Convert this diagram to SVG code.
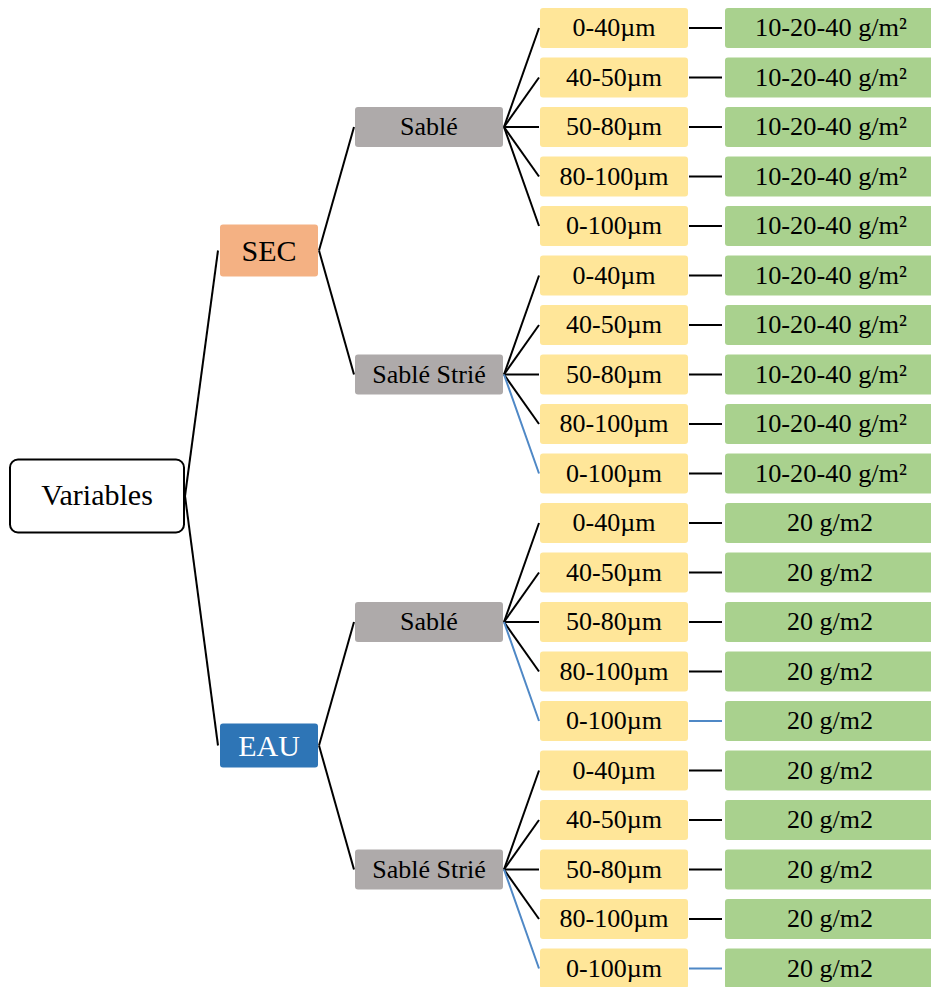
<svg xmlns="http://www.w3.org/2000/svg" width="931" height="987" viewBox="0 0 931 987">
<style>
text{font-family:'Liberation Serif','DejaVu Serif',serif;font-size:26px;fill:#000;text-anchor:middle}
.big{font-size:30px}
.yel{fill:#FFE699}
.grn{fill:#A9D18E}
.gry{fill:#AEAAAA}
.ln{stroke:#000;stroke-width:2;fill:none}
.bl{stroke:#4F88C6;stroke-width:2;fill:none}
</style>
<rect width="931" height="987" fill="#fff"/>
<g id="connectors">
<line class="ln" x1="185" y1="496" x2="218" y2="250.5"/>
<line class="ln" x1="185" y1="496" x2="218" y2="745.5"/>
<line class="ln" x1="319" y1="250.5" x2="354" y2="127"/>
<line class="ln" x1="319" y1="250.5" x2="354" y2="374.5"/>
<line class="ln" x1="319" y1="745.5" x2="354" y2="622"/>
<line class="ln" x1="319" y1="745.5" x2="354" y2="869.5"/>
<line class="ln" x1="504" y1="127" x2="539" y2="28"/>
<line class="ln" x1="504" y1="127" x2="539" y2="77.5"/>
<line class="ln" x1="504" y1="127" x2="539" y2="127"/>
<line class="ln" x1="504" y1="127" x2="539" y2="176.5"/>
<line class="ln" x1="504" y1="127" x2="539" y2="226"/>
<line class="ln" x1="504" y1="374.5" x2="539" y2="275.5"/>
<line class="ln" x1="504" y1="374.5" x2="539" y2="325"/>
<line class="ln" x1="504" y1="374.5" x2="539" y2="374.5"/>
<line class="ln" x1="504" y1="374.5" x2="539" y2="424"/>
<line class="bl" x1="504" y1="374.5" x2="539" y2="473.5"/>
<line class="ln" x1="504" y1="622" x2="539" y2="523"/>
<line class="ln" x1="504" y1="622" x2="539" y2="572.5"/>
<line class="ln" x1="504" y1="622" x2="539" y2="622"/>
<line class="ln" x1="504" y1="622" x2="539" y2="671.5"/>
<line class="bl" x1="504" y1="622" x2="539" y2="721"/>
<line class="ln" x1="504" y1="869.5" x2="539" y2="770.5"/>
<line class="ln" x1="504" y1="869.5" x2="539" y2="820"/>
<line class="ln" x1="504" y1="869.5" x2="539" y2="869.5"/>
<line class="ln" x1="504" y1="869.5" x2="539" y2="919"/>
<line class="bl" x1="504" y1="869.5" x2="539" y2="968.5"/>
<line class="ln" x1="689" y1="28" x2="722" y2="28"/>
<line class="ln" x1="689" y1="77.5" x2="722" y2="77.5"/>
<line class="ln" x1="689" y1="127" x2="722" y2="127"/>
<line class="ln" x1="689" y1="176.5" x2="722" y2="176.5"/>
<line class="ln" x1="689" y1="226" x2="722" y2="226"/>
<line class="ln" x1="689" y1="275.5" x2="722" y2="275.5"/>
<line class="ln" x1="689" y1="325" x2="722" y2="325"/>
<line class="ln" x1="689" y1="374.5" x2="722" y2="374.5"/>
<line class="ln" x1="689" y1="424" x2="722" y2="424"/>
<line class="ln" x1="689" y1="473.5" x2="722" y2="473.5"/>
<line class="ln" x1="689" y1="523" x2="722" y2="523"/>
<line class="ln" x1="689" y1="572.5" x2="722" y2="572.5"/>
<line class="ln" x1="689" y1="622" x2="722" y2="622"/>
<line class="ln" x1="689" y1="671.5" x2="722" y2="671.5"/>
<line class="bl" x1="689" y1="721" x2="722" y2="721"/>
<line class="ln" x1="689" y1="770.5" x2="722" y2="770.5"/>
<line class="ln" x1="689" y1="820" x2="722" y2="820"/>
<line class="ln" x1="689" y1="869.5" x2="722" y2="869.5"/>
<line class="ln" x1="689" y1="919" x2="722" y2="919"/>
<line class="bl" x1="689" y1="968.5" x2="722" y2="968.5"/>
</g>
<g id="variables"><rect x="10" y="459.5" width="174" height="73" rx="8" fill="#fff" stroke="#000" stroke-width="2"/><text class="big" x="97" y="505">Variables</text></g>
<g id="sec"><rect x="220" y="224.5" width="98" height="52" rx="3" fill="#F4B183"/><text class="big" x="269" y="261">SEC</text></g>
<g id="eau"><rect x="220" y="723.5" width="98" height="44" rx="3" fill="#2E75B6"/><text class="big" x="269" y="756" style="fill:#fff">EAU</text></g>
<g id="sec-sable"><rect class="gry" x="355" y="107" width="148" height="40" rx="3"/><text x="429" y="135">Sablé</text></g>
<g id="sec-sable-strie"><rect class="gry" x="355" y="354.5" width="148" height="40" rx="3"/><text x="429" y="382.5">Sablé Strié</text></g>
<g id="eau-sable"><rect class="gry" x="355" y="602" width="148" height="40" rx="3"/><text x="429" y="630">Sablé</text></g>
<g id="eau-sable-strie"><rect class="gry" x="355" y="849.5" width="148" height="40" rx="3"/><text x="429" y="877.5">Sablé Strié</text></g>
<g id="y1"><rect class="yel" x="540" y="8" width="148" height="40" rx="3"/><text x="614" y="36">0-40µm</text></g>
<g id="y2"><rect class="yel" x="540" y="57.5" width="148" height="40" rx="3"/><text x="614" y="85.5">40-50µm</text></g>
<g id="y3"><rect class="yel" x="540" y="107" width="148" height="40" rx="3"/><text x="614" y="135">50-80µm</text></g>
<g id="y4"><rect class="yel" x="540" y="156.5" width="148" height="40" rx="3"/><text x="614" y="184.5">80-100µm</text></g>
<g id="y5"><rect class="yel" x="540" y="206" width="148" height="40" rx="3"/><text x="614" y="234">0-100µm</text></g>
<g id="y6"><rect class="yel" x="540" y="255.5" width="148" height="40" rx="3"/><text x="614" y="283.5">0-40µm</text></g>
<g id="y7"><rect class="yel" x="540" y="305" width="148" height="40" rx="3"/><text x="614" y="333">40-50µm</text></g>
<g id="y8"><rect class="yel" x="540" y="354.5" width="148" height="40" rx="3"/><text x="614" y="382.5">50-80µm</text></g>
<g id="y9"><rect class="yel" x="540" y="404" width="148" height="40" rx="3"/><text x="614" y="432">80-100µm</text></g>
<g id="y10"><rect class="yel" x="540" y="453.5" width="148" height="40" rx="3"/><text x="614" y="481.5">0-100µm</text></g>
<g id="y11"><rect class="yel" x="540" y="503" width="148" height="40" rx="3"/><text x="614" y="531">0-40µm</text></g>
<g id="y12"><rect class="yel" x="540" y="552.5" width="148" height="40" rx="3"/><text x="614" y="580.5">40-50µm</text></g>
<g id="y13"><rect class="yel" x="540" y="602" width="148" height="40" rx="3"/><text x="614" y="630">50-80µm</text></g>
<g id="y14"><rect class="yel" x="540" y="651.5" width="148" height="40" rx="3"/><text x="614" y="679.5">80-100µm</text></g>
<g id="y15"><rect class="yel" x="540" y="701" width="148" height="40" rx="3"/><text x="614" y="729">0-100µm</text></g>
<g id="y16"><rect class="yel" x="540" y="750.5" width="148" height="40" rx="3"/><text x="614" y="778.5">0-40µm</text></g>
<g id="y17"><rect class="yel" x="540" y="800" width="148" height="40" rx="3"/><text x="614" y="828">40-50µm</text></g>
<g id="y18"><rect class="yel" x="540" y="849.5" width="148" height="40" rx="3"/><text x="614" y="877.5">50-80µm</text></g>
<g id="y19"><rect class="yel" x="540" y="899" width="148" height="40" rx="3"/><text x="614" y="927">80-100µm</text></g>
<g id="y20"><rect class="yel" x="540" y="948.5" width="148" height="40" rx="3"/><text x="614" y="976.5">0-100µm</text></g>
<g id="g1"><rect class="grn" x="725" y="8" width="212" height="40" rx="3"/><text x="831" y="36" textLength="152" lengthAdjust="spacingAndGlyphs">10-20-40 g/m²</text></g>
<g id="g2"><rect class="grn" x="725" y="57.5" width="212" height="40" rx="3"/><text x="831" y="85.5" textLength="152" lengthAdjust="spacingAndGlyphs">10-20-40 g/m²</text></g>
<g id="g3"><rect class="grn" x="725" y="107" width="212" height="40" rx="3"/><text x="831" y="135" textLength="152" lengthAdjust="spacingAndGlyphs">10-20-40 g/m²</text></g>
<g id="g4"><rect class="grn" x="725" y="156.5" width="212" height="40" rx="3"/><text x="831" y="184.5" textLength="152" lengthAdjust="spacingAndGlyphs">10-20-40 g/m²</text></g>
<g id="g5"><rect class="grn" x="725" y="206" width="212" height="40" rx="3"/><text x="831" y="234" textLength="152" lengthAdjust="spacingAndGlyphs">10-20-40 g/m²</text></g>
<g id="g6"><rect class="grn" x="725" y="255.5" width="212" height="40" rx="3"/><text x="831" y="283.5" textLength="152" lengthAdjust="spacingAndGlyphs">10-20-40 g/m²</text></g>
<g id="g7"><rect class="grn" x="725" y="305" width="212" height="40" rx="3"/><text x="831" y="333" textLength="152" lengthAdjust="spacingAndGlyphs">10-20-40 g/m²</text></g>
<g id="g8"><rect class="grn" x="725" y="354.5" width="212" height="40" rx="3"/><text x="831" y="382.5" textLength="152" lengthAdjust="spacingAndGlyphs">10-20-40 g/m²</text></g>
<g id="g9"><rect class="grn" x="725" y="404" width="212" height="40" rx="3"/><text x="831" y="432" textLength="152" lengthAdjust="spacingAndGlyphs">10-20-40 g/m²</text></g>
<g id="g10"><rect class="grn" x="725" y="453.5" width="212" height="40" rx="3"/><text x="831" y="481.5" textLength="152" lengthAdjust="spacingAndGlyphs">10-20-40 g/m²</text></g>
<g id="g11"><rect class="grn" x="725" y="503" width="212" height="40" rx="3"/><text x="830" y="531">20 g/m2</text></g>
<g id="g12"><rect class="grn" x="725" y="552.5" width="212" height="40" rx="3"/><text x="830" y="580.5">20 g/m2</text></g>
<g id="g13"><rect class="grn" x="725" y="602" width="212" height="40" rx="3"/><text x="830" y="630">20 g/m2</text></g>
<g id="g14"><rect class="grn" x="725" y="651.5" width="212" height="40" rx="3"/><text x="830" y="679.5">20 g/m2</text></g>
<g id="g15"><rect class="grn" x="725" y="701" width="212" height="40" rx="3"/><text x="830" y="729">20 g/m2</text></g>
<g id="g16"><rect class="grn" x="725" y="750.5" width="212" height="40" rx="3"/><text x="830" y="778.5">20 g/m2</text></g>
<g id="g17"><rect class="grn" x="725" y="800" width="212" height="40" rx="3"/><text x="830" y="828">20 g/m2</text></g>
<g id="g18"><rect class="grn" x="725" y="849.5" width="212" height="40" rx="3"/><text x="830" y="877.5">20 g/m2</text></g>
<g id="g19"><rect class="grn" x="725" y="899" width="212" height="40" rx="3"/><text x="830" y="927">20 g/m2</text></g>
<g id="g20"><rect class="grn" x="725" y="948.5" width="212" height="40" rx="3"/><text x="830" y="976.5">20 g/m2</text></g>
</svg>
